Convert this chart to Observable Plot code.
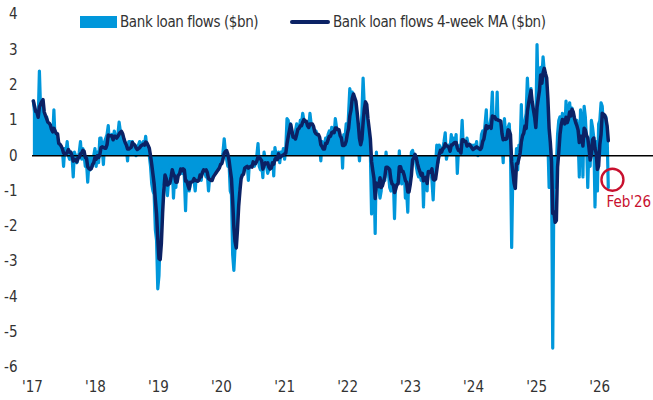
<!DOCTYPE html>
<html>
<head>
<meta charset="utf-8">
<script src="https://cdn.jsdelivr.net/npm/d3@7"></script>
<script src="https://cdn.jsdelivr.net/npm/@observablehq/plot@0.6"></script>
<style>
  body { margin: 0; background: #fff; }
  #wrap { position: relative; width: 653px; height: 400px; font-family: "Liberation Sans Narrow", "DejaVu Sans Condensed", "Roboto", sans-serif; color: #333; }
  .lg { position: absolute; font-size: 15px; line-height: 16px; white-space: nowrap; color: #333; letter-spacing: -0.4px; }
  .sw1 { position: absolute; left: 80px; top: 16px; width: 37px; height: 12px; background: #0097DB; }
  .sw2 { position: absolute; left: 290px; top: 20px; width: 40px; height: 4px; background: #0B2265; border-radius: 2px; }
  svg text { font-family: "Liberation Sans Narrow", "DejaVu Sans Condensed", "Roboto", sans-serif; }
</style>
</head>
<body>
<div id="wrap">
  <div id="chart"></div>
  <div class="sw1"></div>
  <div class="lg" style="left:120px;top:14px;">Bank loan flows ($bn)</div>
  <div class="sw2"></div>
  <div class="lg" style="left:333px;top:14px;">Bank loan flows 4-week MA ($bn)</div>
</div>
<script>
// Weekly bank loan flows ($bn), first week ending 2017-01-06
const startDate = new Date(Date.UTC(2017, 0, 6));
const flows2017 = [1.55,1.25,0.95,1.15,1.0, 2.4,1.3,1.45,1.2,1.0, 0.9,1.1,0.8,0.9,0.7, 0.6,0.5,1.3,0.4,0.3, 0.5,0.2,0.3,0.1,0.2, -0.3,0.2,0.1,0.4,0.0, -0.1,0.1,0.0,-0.6,0.1, 0.0,-0.2,-0.1,0.1,0.4, -0.1,0.2,0.0,-0.3,-0.2, -0.75,-0.2,-0.4,-0.1,-0.3, 0.0,0.2];
const flows2018 = [-0.3,0.1,-0.2,0.5,0.5, 0.2,-0.25,0.4,0.5,0.6, 0.85,0.3,0.5,0.6,0.4, 0.7,0.5,0.4,0.6,0.95, 0.7,0.5,0.3,0.4,0.3, 0.2,-0.15,0.4,0.4,0.3, 0.4,0.2,0.3,0.0,0.2, 0.3,0.4,0.2,0.3,0.4, 0.3,0.55,0.2,0.1,0.0, -0.3,-0.8,-1.0,-1.1,-2.1, -2.4,-3.77];
const flows2019 = [-3.4,-2.2,-0.5,-0.4,-0.8, -0.5,-0.9,-1.13,-0.7,-0.4, -0.2,-0.3,-1.2,-0.6,-0.9, -0.3,-0.4,-0.5,-0.3,-0.5, -0.2,-0.6,-1.56,-0.5,-0.7, -1.0,-0.8,-0.5,-0.6,-0.7, -1.0,-0.5,-0.7,-0.6,-0.4, -0.7,-0.2,-0.3,-0.5,-0.6, -0.5,-1.0,-0.6,-0.7,-0.5, -0.6,-0.4,-0.5,-0.3,-0.4, -0.2,-0.1];
const flows2020 = [-0.2,0.1,0.48,0.1,-0.1, -0.3,-0.2,-1.0,-1.1,-2.8, -3.25,-2.6,-1.8,-0.7,-0.6, -0.9,-0.4,-0.3,-0.5,-0.2, -0.3,-0.2,-0.7,-0.1,-0.2, -0.3,-0.1,-0.3,-0.2,0.0, 0.34,-0.3,-0.4,-0.2,-0.62, 0.1,-0.1,-0.3,-0.5,-0.4, -0.3,-0.2,0.1,-0.57,0.23, 0.0,-0.1,0.1,-0.2,0.1, 0.0,0.2];
const flows2021 = [-0.1,0.2,1.05,1.0,0.6, 0.9,0.4,0.2,0.6,0.7, 0.9,0.8,0.7,1.0,0.9, 1.2,1.0,0.8,0.9,0.7, 0.8,1.2,0.9,0.7,0.5, 0.6,0.7,0.6,0.5,0.3, -0.15,0.4,0.2,0.3,0.5, 0.4,0.6,0.7,0.5,0.8, 0.7,0.6,1.05,0.8,0.5, 0.6,0.4,0.5,-0.35,0.6, 0.5,0.9];
const flows2022 = [0.5,1.2,1.9,1.6,1.8, 1.7,1.5,1.2,0.6,0.3, -0.15,0.5,1.2,2.2,1.4, 1.3,0.9,0.6,0.3,0.1, -1.65,-0.4,-0.6,-2.2,0.1, -0.5,-0.9,-1.2,-1.0,-0.3, -0.4,-0.7,0.1,-0.3,-0.5, -0.9,-1.0,-0.8,-0.6,-1.78, -0.6,-0.3,-0.5,0.14,-0.6, -0.8,-0.5,-0.3,-1.2,-1.0, -1.6,-0.3];
const flows2023 = [-0.4,0.1,0.15,-0.1,0.0, -0.3,-0.5,-0.6,-0.4,-0.7, -0.3,-1.45,-0.2,-0.5,-1.0, -0.1,-0.3,-0.4,-0.7,-1.25, -0.4,-0.3,0.3,-0.2,0.3, 0.2,0.1,0.2,0.4,0.65, -0.1,0.1,0.3,0.2,0.6, 0.1,0.5,0.3,0.6,-0.5, 0.2,0.3,0.3,1.0,0.2, 0.1,0.3,0.5,0.3,0.2, 0.1,0.3];
const flows2024 = [0.1,0.3,0.2,0.4,0.0, 0.2,0.1,0.6,0.7,0.5, 0.9,1.3,0.4,0.7,0.9, 1.1,1.8,0.6,0.9,0.8, 1.8,0.5,0.9,0.7,0.4, -0.2,1.05,0.6,0.5,0.8, 0.9,0.2,-2.6,-0.4,-0.3, -0.4,0.2,-0.4,0.3,0.2, 1.45,0.3,0.6,1.0,1.2, 2.2,1.5,1.8,1.9,0.9, 0.6,1.0];
const flows2025 = [0.7,3.15,1.6,1.9,2.5, 2.2,2.8,2.4,1.9,1.7, 0.4,-0.9,0.3,-0.5,-5.45, -0.7,-0.9,-0.3,0.6,1.0, 1.1,0.8,1.2,0.9,0.7, 1.55,0.6,1.3,1.5,1.1, 1.35,1.0,0.8,0.6,1.0, 0.5,-0.6,1.3,1.0,-0.6, 1.4,1.1,0.4,-0.9,0.3, -0.3,1.0,0.8,0.5,-1.45, 0.4,-1.0];
const flows2026 = [0.9,1.0,1.5,1.4,0.8, 0.9,1.1,0.6,-0.9];

const yTicks = [-6,-5,-4,-3,-2,-1,0,1,2,3,4];
const yearTickLabels = ["'17","'18","'19","'20","'21","'22","'23","'24","'25","'26"];
const annotation = [{date: new Date(Date.UTC(2026, 2, 16)), value: -0.68, label: "Feb'26"}];

const LIGHT = "#0097DB", NAVY = "#0B2265", RED = "#C8102E";

const flows = [...flows2017, ...flows2018, ...flows2019, ...flows2020, ...flows2021,
               ...flows2022, ...flows2023, ...flows2024, ...flows2025, ...flows2026];
const data = flows.map((v, i) => ({date: d3.utcDay.offset(startDate, 7 * i), value: v}));
const yearTicks = yearTickLabels.map((_, i) => new Date(Date.UTC(2017 + i, 0, 1)));

const chart = Plot.plot({
  width: 653, height: 400,
  marginLeft: 32, marginRight: 0, marginTop: 14, marginBottom: 33,
  style: {fontSize: "15px", color: "#333", background: "#fff"},
  x: {type: "utc", domain: [new Date(Date.UTC(2017, 0, 1)), new Date(Date.UTC(2026, 10, 9))],
      ticks: yearTicks, tickFormat: d => yearTickLabels[d.getUTCFullYear() - 2017],
      tickSize: 0, tickPadding: 14, label: null},
  y: {domain: [-6, 4], ticks: yTicks, tickFormat: d => String(d), tickSize: 0, tickPadding: 15, label: null},
  marks: [
    Plot.areaY(data, {x: "date", y: "value", fill: LIGHT}),
    Plot.lineY(data, {x: "date", y: "value", stroke: LIGHT, strokeWidth: 3.2, strokeLinejoin: "round", strokeLinecap: "round"}),
    Plot.ruleY([0], {stroke: "#000", strokeWidth: 1.5}),
    Plot.lineY(data, Plot.windowY({k: 4, anchor: "end", reduce: "mean"},
      {x: "date", y: "value", stroke: NAVY, strokeWidth: 3.5, strokeLinejoin: "round", strokeLinecap: "round"})),
    Plot.dot(annotation, {x: "date", y: "value", r: 11, stroke: RED, strokeWidth: 2.4, fill: "none"}),
    Plot.text(annotation, {x: "date", y: "value", text: "label", dy: 22, dx: -6, textAnchor: "start", fill: RED, fontSize: 15})
  ]
});
document.getElementById("chart").appendChild(chart);
</script>
</body>
</html>
